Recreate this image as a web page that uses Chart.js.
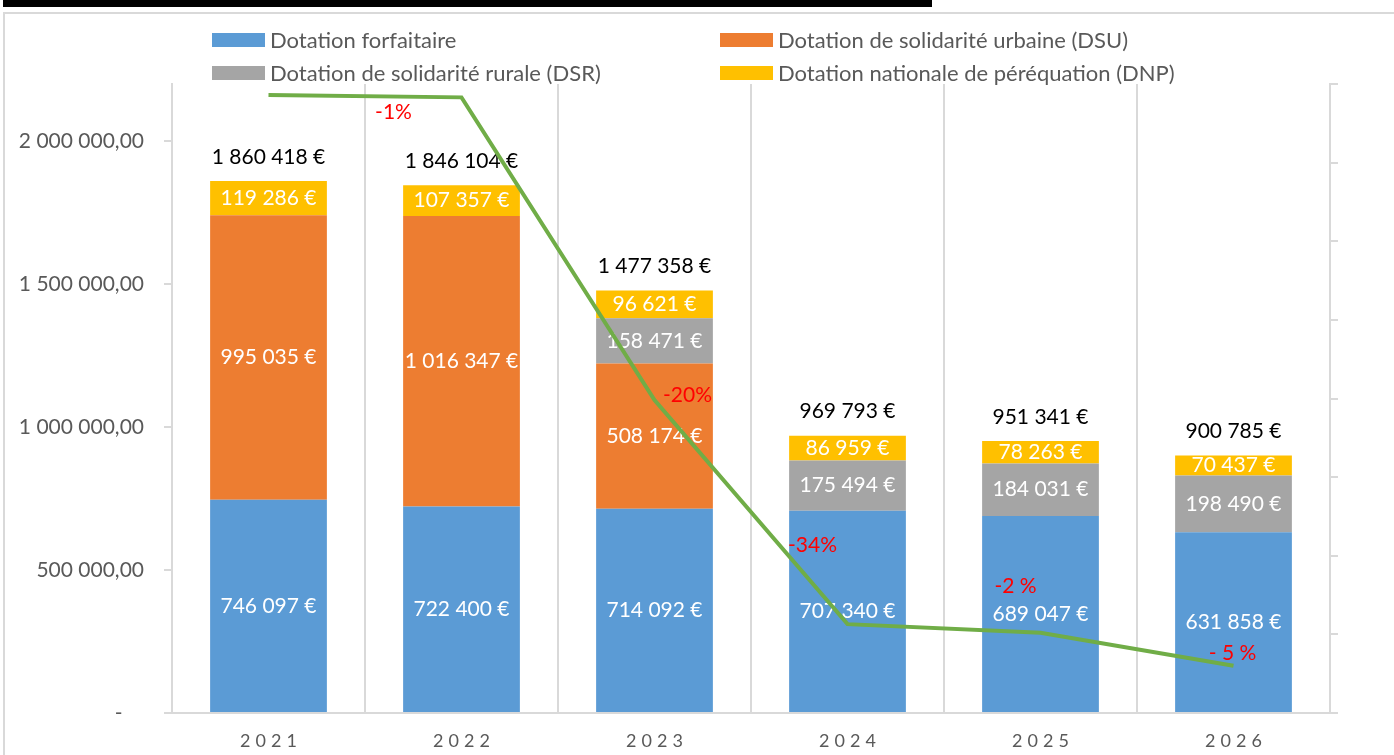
<!DOCTYPE html>
<html>
<head>
<meta charset="utf-8">
<script src="https://cdn.jsdelivr.net/npm/chart.js@4.4.1/dist/chart.umd.min.js"></script>
<style>
  body { margin: 0; background: #fff; font-family: Lato, sans-serif; }
  #wrap { position: relative; width: 1394px; height: 755px; overflow: hidden; }
  #titlebar { position: absolute; left: 3px; top: 0px; width: 929px; height: 7px; background: #000; }
  #frame { position: absolute; left: 3px; top: 12px; width: 1400px; height: 760px; border: 2px solid #d9d9d9; }
  #legend { position: absolute; left: 0; top: 0; width: 1394px; height: 90px; }
  .lg { position: absolute; display: flex; align-items: center; font-size: 22px; color: #595959; white-space: nowrap; }
  .lg span.box { display: inline-block; width: 53px; height: 14px; margin-right: 5px; }
  canvas { position: absolute; left: 0; top: 0; }
</style>
</head>
<body>
<div id="wrap">
  <div id="titlebar"></div>
  <div id="frame"></div>
  <canvas id="chart" width="1394" height="755"></canvas>
  <div id="legend"></div>
</div>
<script>
const years = ["2021", "2022", "2023", "2024", "2025", "2026"];
const forfaitaire = [746097, 722400, 714092, 707340, 689047, 631858];
const dsu = [995035, 1016347, 508174, 0, 0, 0];
const dsr = [0, 0, 158471, 175494, 184031, 198490];
const dnp = [119286, 107357, 96621, 86959, 78263, 70437];
const totals = [1860418, 1846104, 1477358, 969793, 951341, 900785];
// green trend line (0..8)
const trend = [7.86, 7.83, 3.98, 1.13, 1.02, 0.60];
const trendLabels = ["", "-1%", "-20%", "-34%", "-2 %", "- 5 %"];
// where each red label sits relative to its line point
const trendLabelOffsets = [[0, 0], [-68, 15], [33, -5], [-35, -79], [-25, -47], [-1, -13]];

const yTicks = [0, 500000, 1000000, 1500000, 2000000];

function grp(n) {
  return String(n).replace(/\B(?=(\d{3})+(?!\d))/g, " ");
}
function euro(n) { return grp(n) + " €"; }

const colors = {
  forf: "#5b9bd5",
  dsu: "#ed7d31",
  dsr: "#a5a5a5",
  dnp: "#ffc000",
  line: "#70ad47",
  grid: "#d9d9d9",
  text: "#595959"
};

// labels inside the bars, drawn right after each bar dataset so the line stays on top
const barLabels = {
  id: "barLabels",
  afterDatasetDraw(chart, args) {
    const ds = chart.data.datasets[args.index];
    if (ds.type === "line") return;
    const ctx = chart.ctx;
    ctx.save();
    ctx.font = "21px Lato";
    ctx.fillStyle = "#fff";
    ctx.textAlign = "center";
    ctx.textBaseline = "middle";
    args.meta.data.forEach((el, i) => {
      const v = ds.data[i];
      if (!v) return;
      ctx.fillText(euro(v), el.x, (el.y + el.base) / 2);
    });
    // totals above the top segment
    if (args.index === 3) {
      ctx.fillStyle = "#000";
      args.meta.data.forEach((el, i) => {
        ctx.fillText(euro(totals[i]), el.x, el.y - 24);
      });
    }
    ctx.restore();
  },
  afterDatasetsDraw(chart) {
    const ctx = chart.ctx;
    const meta = chart.getDatasetMeta(4);
    ctx.save();
    ctx.font = "21px Lato";
    ctx.fillStyle = "#ff0000";
    ctx.textAlign = "center";
    ctx.textBaseline = "middle";
    meta.data.forEach((pt, i) => {
      if (!trendLabels[i]) return;
      const o = trendLabelOffsets[i];
      ctx.fillText(trendLabels[i], pt.x + o[0], pt.y + o[1]);
    });
    // spaced year labels under the x axis
    const xs = chart.scales.x;
    ctx.font = "18px Lato";
    ctx.fillStyle = colors.text;
    ctx.letterSpacing = "5px";
    years.forEach((y, i) => {
      ctx.fillText(y, xs.getPixelForTick(i) + 2.5, 741);
    });
    ctx.restore();
  }
};

const chart = new Chart(document.getElementById("chart"), {
  type: "bar",
  data: {
    labels: years,
    datasets: [
      { label: "Dotation forfaitaire", data: forfaitaire, backgroundColor: colors.forf, order: 1 },
      { label: "Dotation de solidarité urbaine (DSU)", data: dsu, backgroundColor: colors.dsu, order: 1 },
      { label: "Dotation de solidarité rurale (DSR)", data: dsr, backgroundColor: colors.dsr, order: 1 },
      { label: "Dotation nationale de péréquation (DNP)", data: dnp, backgroundColor: colors.dnp, order: 1 },
      {
        type: "line", label: "Évolution", data: trend, yAxisID: "y2",
        borderColor: colors.line, borderWidth: 4, pointRadius: 0, tension: 0, order: 0
      }
    ]
  },
  options: {
    responsive: false,
    animation: false,
    layout: { padding: { top: 84, left: 0, right: 0, bottom: 0 } },
    datasets: { bar: { categoryPercentage: 1, barPercentage: 0.605 } },
    plugins: { legend: { display: false }, tooltip: { enabled: false } },
    scales: {
      x: {
        stacked: true,
        grid: { color: colors.grid, drawTicks: false, lineWidth: 2 },
        border: { color: colors.grid, width: 2 },
        ticks: { display: false },
        afterFit(s) { s.height = 42; }
      },
      y: {
        stacked: true,
        min: 0,
        max: 2200000,
        afterBuildTicks(s) { s.ticks = yTicks.map(v => ({ value: v })); },
        grid: { drawOnChartArea: false, color: colors.grid, tickLength: 8, lineWidth: 2 },
        border: { color: colors.grid, width: 2 },
        ticks: {
          padding: 20,
          color: colors.text,
          font: { family: "Lato", size: 21 },
          callback: v => v === 0 ? "-    " : grp(v) + ",00"
        },
        afterFit(s) { s.width = 172; }
      },
      y2: {
        position: "right",
        min: 0,
        max: 8,
        ticks: { stepSize: 1, display: false },
        grid: { drawOnChartArea: false, color: colors.grid, tickLength: 8, lineWidth: 2 },
        border: { color: colors.grid, width: 2 },
        afterFit(s) { s.width = 64; }
      }
    }
  },
  plugins: [barLabels]
});

// two-column legend like the original
const legendPos = [[212, 40], [720, 40], [212, 73], [720, 73]];
const lg = document.getElementById("legend");
chart.data.datasets.slice(0, 4).forEach((ds, i) => {
  const d = document.createElement("div");
  d.className = "lg";
  d.style.left = legendPos[i][0] + "px";
  d.style.top = (legendPos[i][1] - 14) + "px";
  d.innerHTML = '<span class="box" style="background:' + ds.backgroundColor + '"></span>' + ds.label;
  lg.appendChild(d);
});
</script>
</body>
</html>
